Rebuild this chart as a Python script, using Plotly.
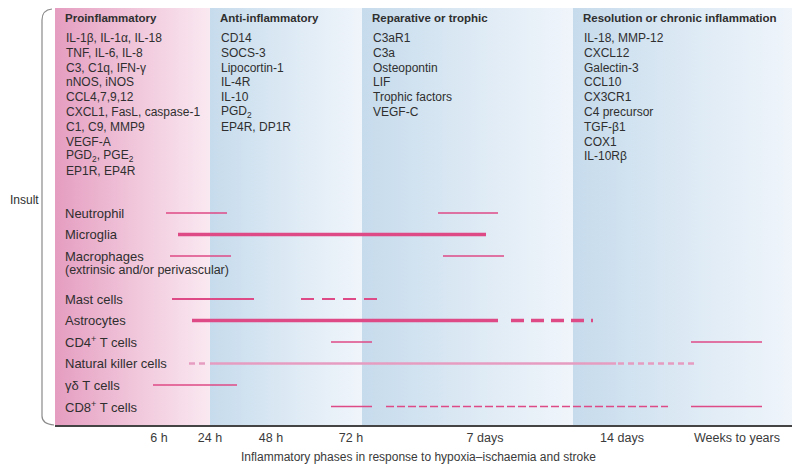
import plotly.graph_objects as go

# ---------------- data ----------------
phase_names = ["Proinflammatory", "Anti-inflammatory", "Reparative or trophic",
               "Resolution or chronic inflammation"]
phase_start = [0, 155, 307, 518]
phase_end = [155, 307, 518, 740]
phase_left_colors = ["#E59DC0", "#C6DBEC", "#C6DBEC", "#C6DBEC"]
phase_mid_colors = ["#F0C5DA", "#DCE9F4", "#DCE9F4", "#DCE9F4"]
phase_right_colors = ["#FAE9F1", "#F0F5FB", "#F0F5FB", "#F0F5FB"]

pro_markers = ["IL-1β, IL-1α, IL-18", "TNF, IL-6, IL-8", "C3, C1q, IFN-γ", "nNOS, iNOS",
               "CCL4,7,9,12", "CXCL1, FasL, caspase-1", "C1, C9, MMP9", "VEGF-A",
               "PGD<sub>2</sub>, PGE<sub>2</sub>", "EP1R, EP4R"]
anti_markers = ["CD14", "SOCS-3", "Lipocortin-1", "IL-4R", "IL-10", "PGD<sub>2</sub>",
                "EP4R, DP1R"]
repair_markers = ["C3aR1", "C3a", "Osteopontin", "LIF", "Trophic factors", "VEGF-C"]
resolution_markers = ["IL-18, MMP-12", "CXCL12", "Galectin-3", "CCL10", "CX3CR1",
                      "C4 precursor", "TGF-β1", "COX1", "IL-10Rβ"]
phase_markers = [pro_markers, anti_markers, repair_markers, resolution_markers]

tick_pos = [104, 155, 216, 296, 430, 567, 682]
tick_text = ["6 h", "24 h", "48 h", "72 h", "7 days", "14 days", "Weeks to years"]

cell_names = ["Neutrophil", "Microglia", "Macrophages", "Mast cells", "Astrocytes",
              "CD4<sup>+</sup> T cells", "Natural killer cells", "γδ T cells",
              "CD8<sup>+</sup> T cells"]
cell_rows = [0, 1, 2, 4, 5, 6, 7, 8, 9]

seg_cell = ["Neutrophil", "Neutrophil", "Microglia", "Macrophages", "Macrophages",
            "Mast cells", "Mast cells", "Astrocytes", "Astrocytes",
            "CD4<sup>+</sup> T cells", "CD4<sup>+</sup> T cells",
            "Natural killer cells", "Natural killer cells", "Natural killer cells",
            "γδ T cells",
            "CD8<sup>+</sup> T cells", "CD8<sup>+</sup> T cells", "CD8<sup>+</sup> T cells"]
seg_start = [111, 383, 123, 115, 388, 117, 246, 137, 456, 276, 636, 134, 155, 563, 98,
             276, 331, 636]
seg_end = [172, 443, 431, 176, 449, 199, 329, 443, 538, 317, 707, 152, 561, 642, 182,
           317, 613, 707]
seg_style = ["thin", "thin", "thick", "thin", "thin", "mid", "mid_dash", "thick",
             "thick_dash", "thin", "thin", "nk_dash", "nk", "nk_dash", "thin",
             "thin", "thin_dash", "thin"]

# ---------------- styles ----------------
PINK = "#DE4A86"
NK_PINK = "#E69CC0"
styles = {
    "thin": dict(color=PINK, width=1.4, dash="solid"),
    "thin_dash": dict(color=PINK, width=1.4, dash="8px,3px"),
    "mid": dict(color=PINK, width=1.8, dash="solid"),
    "mid_dash": dict(color=PINK, width=2.2, dash="13px,8px"),
    "thick": dict(color=PINK, width=3.5, dash="solid"),
    "thick_dash": dict(color=PINK, width=3.5, dash="13px,7px"),
    "nk": dict(color=NK_PINK, width=2.4, dash="solid"),
    "nk_dash": dict(color=NK_PINK, width=2.4, dash="6px,4px"),
}

# ---------------- geometry ----------------
# The page body adds an 8 px offset, so the figure is 792x462 and reference
# pixel positions (rx, ry) map to figure pixels (rx - OFF, ry - OFF).
OFF = 8
W, H = 800 - OFF, 470 - OFF
ML = 55 - OFF                 # plot left edge  (reference x = 55)
MR = W - (795 - OFF)          # plot right edge (reference x = 795)
MT = 0                        # plot top        (reference y ~ 7)
MB = H - (425 - OFF)          # axis line       (reference y = 425)
PW, PH = W - ML - MR, H - MT - MB
ROW0 = 213.0                  # reference y of row 0
ROW_STEP = 21.5               # px per row


def fy(ry):
    return ry - OFF


y_top = -(ROW0 - OFF - MT) / ROW_STEP
y_bot = ((H - MB) - fy(ROW0)) / ROW_STEP


def py(ry):
    """reference pixel y -> row units"""
    return (ry - ROW0) / ROW_STEP


def px2paper(rx, ry):
    return (rx - OFF - ML) / PW, (H - MB - fy(ry)) / PH


FONT = "Liberation Sans, Arial, sans-serif"
TXT = "#2f2f2f"

fig = go.Figure()

# phase backgrounds
for s, e, c0, c1, c2 in zip(phase_start, phase_end, phase_left_colors,
                            phase_mid_colors, phase_right_colors):
    fig.add_trace(go.Scatter(
        x=[s, e, e, s, s], y=[y_top, y_top, y_bot, y_bot, y_top],
        mode="lines", line=dict(width=0), fill="toself",
        fillgradient=dict(type="horizontal",
                          colorscale=[[0, c0], [0.5, c1], [1, c2]]),
        hoverinfo="skip", showlegend=False))

# segments
row_of = dict(zip(cell_names, cell_rows))
for c, s, e, st in zip(seg_cell, seg_start, seg_end, seg_style):
    r = row_of[c]
    fig.add_trace(go.Scatter(x=[s, e], y=[r, r], mode="lines", line=styles[st],
                             hoverinfo="skip", showlegend=False))

ann = []
# headers and marker lists
for name, s, markers in zip(phase_names, phase_start, phase_markers):
    ann.append(dict(x=s + 8, y=py(18), text="<b>" + name + "</b>", xref="x", yref="y",
                    xanchor="left", yanchor="middle", showarrow=False,
                    font=dict(family=FONT, size=11.5, color=TXT)))
    for i, m in enumerate(markers):
        ann.append(dict(x=s + 9, y=py(38 + 14.8 * i), text=m, xref="x", yref="y",
                        xanchor="left", yanchor="middle", showarrow=False,
                        font=dict(family=FONT, size=12, color=TXT)))

# row labels
for n, r in zip(cell_names, cell_rows):
    ann.append(dict(x=8, y=r, text=n, xref="x", yref="y", xanchor="left",
                    yanchor="middle", showarrow=False,
                    font=dict(family=FONT, size=13, color=TXT)))
ann.append(dict(x=8, y=row_of["Macrophages"] + 14 / ROW_STEP,
                text="(extrinsic and/or perivascular)", xref="x", yref="y",
                xanchor="left", yanchor="middle", showarrow=False,
                font=dict(family=FONT, size=12.5, color=TXT)))

# Insult label
ann.append(dict(x=px2paper(24, 200)[0], y=py(200), xref="paper", yref="y",
                text="Insult", showarrow=False, xanchor="center", yanchor="middle",
                font=dict(family=FONT, size=12, color=TXT)))

# axis title
tx, ty = px2paper(418, 457)
ann.append(dict(x=tx, y=ty, xref="paper", yref="paper",
                text="Inflammatory phases in response to hypoxia–ischaemia and stroke",
                showarrow=False, xanchor="center", yanchor="middle",
                font=dict(family=FONT, size=12, color="#3a3a3a")))

# bracket on the left
pts = [px2paper(52, 9), px2paper(42, 10), px2paper(42, 20), px2paper(42, 416),
       px2paper(42, 424), px2paper(54, 425)]
path = ("M {0[0]},{0[1]} Q {1[0]},{1[1]} {2[0]},{2[1]} L {3[0]},{3[1]} "
        "Q {4[0]},{4[1]} {5[0]},{5[1]}").format(*pts)

fig.update_layout(
    width=W, height=H,
    margin=dict(l=ML, r=MR, t=MT, b=MB, pad=0, autoexpand=False),
    paper_bgcolor="white", plot_bgcolor="white",
    showlegend=False,
    annotations=ann,
    shapes=[dict(type="path", path=path, xref="paper", yref="paper",
                 line=dict(color="#8a8a8a", width=1.2))],
    xaxis=dict(range=[0, PW], showgrid=False, zeroline=False, showline=True,
               linecolor="#444444", linewidth=1.5, ticks="", automargin=False,
               tickvals=tick_pos, ticktext=tick_text,
               tickfont=dict(family=FONT, size=12.5, color="#3a3a3a"),
               fixedrange=True),
    yaxis=dict(range=[y_bot, y_top], showgrid=False, zeroline=False, automargin=False,
               showticklabels=False, showline=False, fixedrange=True),
)

fig.write_html("out.html")
